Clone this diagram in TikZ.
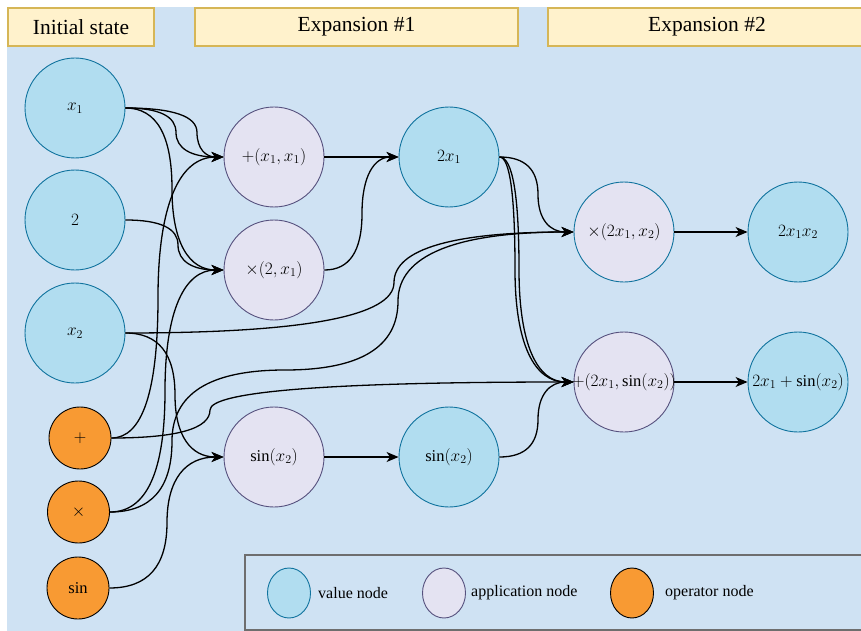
\documentclass[tikz,border=0pt]{standalone}
\usepackage{fontspec}
\setmainfont{Liberation Serif}
\usetikzlibrary{arrows.meta,calc,shapes.geometric}

\definecolor{canvasblue}{HTML}{CFE2F3}
\definecolor{headfill}{HTML}{FFF2CC}
\definecolor{headline}{HTML}{D6B656}
\definecolor{valfill}{HTML}{B1DDF0}
\definecolor{valline}{HTML}{10739E}
\definecolor{appfill}{HTML}{E4E3F2}
\definecolor{appline}{HTML}{56517E}
\definecolor{opfill}{HTML}{F89A33}
\definecolor{legline}{HTML}{6E6E6E}

% zero-width label so long formulas do not inflate the circles
\newcommand\nodetext[1]{\makebox[0pt]{#1}}

\tikzset{
  valnode/.style={circle,draw=valline,fill=valfill,line width=0.9pt,
    minimum size=100pt,inner sep=0pt,font=\fontsize{16.5}{19}\selectfont},
  appnode/.style={valnode,draw=appline,fill=appfill},
  opnode/.style={circle,draw=black,fill=opfill,line width=0.9pt,
    minimum size=62pt,inner sep=0pt,font=\fontsize{16.5}{19}\selectfont},
  header/.style={rectangle,draw=headline,fill=headfill,line width=1.2pt,
    minimum height=38pt,inner sep=0pt,font=\fontsize{21.5}{24}\selectfont},
  legtext/.style={anchor=west,inner sep=0pt,font=\fontsize{16}{19}\selectfont},
  legshape/.style={ellipse,minimum width=43pt,minimum height=50pt,inner sep=0pt,line width=0.9pt},
  edge/.style={line width=1.3pt,-{Stealth[length=12pt,width=10pt,inset=3.5pt]}},
  % horizontal exit, vertical run at x=#1, horizontal entry;
  % two quadratic pieces written as cubics
  vbend/.style={to path={let \p1=(\tikztostart),\p2=(\tikztotarget) in
    .. controls ({(\x1+2*#1pt)/3},\y1) and ({#1pt},{(5*\y1+\y2)/6})
    .. ({#1pt},{(\y1+\y2)/2})
    .. controls ({#1pt},{(\y1+5*\y2)/6}) and ({(\x2+2*#1pt)/3},\y2)
    .. (\tikztotarget)}},
}

\begin{document}
\begin{tikzpicture}[x=1pt,y=-1pt]
\useasboundingbox (0,0) rectangle (861,631);
\fill[canvasblue] (7,7) rectangle (861,631);

% column headers
\node[header,minimum width=146pt] (hinit) at (81,27) {Initial state};
\node[header,minimum width=323pt] (hexp1) at (356.5,27) {Expansion \#1};
\node[header,minimum width=318pt] (hexp2) at (707,27) {Expansion \#2};

% initial state
\node[valnode] (x1) at (75,108) {\nodetext{$x_1$}};
\node[valnode] (two) at (75,220) {\nodetext{$2$}};
\node[valnode] (x2) at (75,333) {\nodetext{$x_2$}};
\node[opnode] (opplus) at (80,438) {\nodetext{$+$}};
\node[opnode] (opmul) at (78.5,512) {\nodetext{$\times$}};
\node[opnode] (opsin) at (78,588) {\nodetext{$\sin$}};

% expansion 1
\node[appnode] (a1) at (274,157) {\nodetext{$+(x_1,x_1)$}};
\node[appnode] (a2) at (274,270) {\nodetext{$\times(2,x_1)$}};
\node[appnode] (a3) at (274,457) {\nodetext{$\sin(x_2)$}};
\node[valnode] (v1) at (449,157) {\nodetext{$2x_1$}};
\node[valnode] (v2) at (449,457) {\nodetext{$\sin(x_2)$}};

% expansion 2
\node[appnode,draw=valline] (a4) at (624,232) {\nodetext{$\times(2x_1,x_2)$}};
\node[appnode] (a5) at (624,382) {\nodetext{$+(2x_1,\sin(x_2))$}};
\node[valnode] (v3) at (798,232) {\nodetext{$2x_1x_2$}};
\node[valnode] (v4) at (798,382) {\nodetext{$2x_1+\sin(x_2)$}};

% connectors
\draw[edge] (x1.east) to[vbend=197] (a1.west);
\draw[edge] (x1.east) to[vbend=176] (a1.west);
\draw[edge] (x1.east) to[vbend=172] (a2.west);
\draw[edge] (two.east) to[vbend=178] (a2.west);
\draw[edge] (opplus.east) to[vbend=158] (a1.west);
\draw[edge] (opmul.east) to[vbend=165] (a2.west);
\draw[edge] (x2.east) to[vbend=175] (a3.west);
\draw[edge] (opsin.east) to[vbend=167] (a3.west);
\draw[edge] (a1.east) -- (v1.west);
\draw[edge] (a2.east) to[vbend=362] (v1.west);
\draw[edge] (a3.east) -- (v2.west);
\draw[edge] (v1.east) to[vbend=538] (a4.west);
\draw[edge] (x2.east) to[vbend=394] (a4.west);
\draw[edge] (opmul.east) .. controls (151.2,512) and (172,488.3) .. (172,441)
  .. controls (172,393.7) and (209.7,370) .. (285,370)
  .. controls (360.3,370) and (398,347) .. (398,301)
  .. controls (398,255) and (456.7,232) .. (a4.west);
\draw[edge] (v1.east) to[vbend=515] (a5.west);
\draw[edge] (v1.east) to[vbend=519] (a5.west);
\draw[edge] (opplus.east) to[vbend=210] (a5.west);
\draw[edge] (v2.east) to[vbend=538] (a5.west);
\draw[edge] (a4.east) -- (v3.west);
\draw[edge] (a5.east) -- (v4.west);

% legend
\draw[legline,line width=1.5pt] (245,555) rectangle (875,630);
\node[legshape,draw=valline,fill=valfill] (lval) at (289,593) {};
\node[legtext] (lvalt) at (318,593) {value node};
\node[legshape,draw=appline,fill=appfill] (lapp) at (444,593) {};
\node[legtext] (lappt) at (471,593) {application node};
\node[legshape,draw=black,fill=opfill] (lop) at (632,593) {};
\node[legtext] (lopt) at (665,593) {operator node};
\end{tikzpicture}
\end{document}
